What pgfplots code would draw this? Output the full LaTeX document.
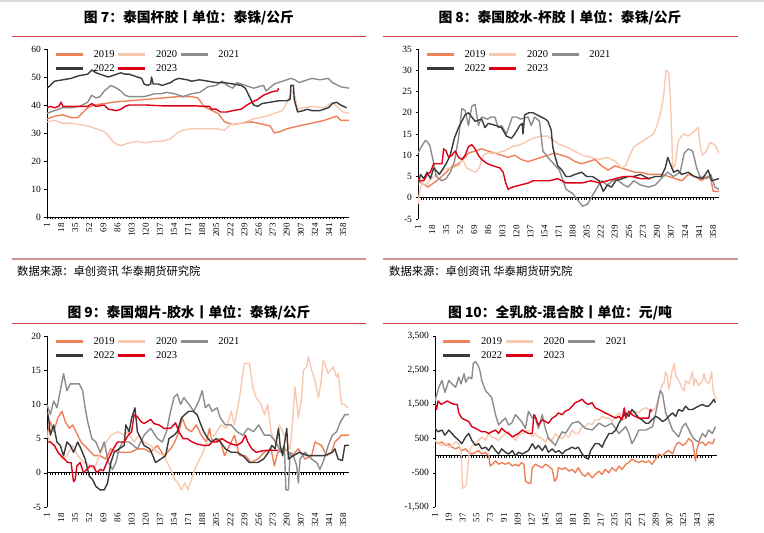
\documentclass[border=0pt]{standalone}
\usepackage{pgfplots}
\pgfplotsset{compat=1.18}
\usepackage{fontspec}
\setmainfont{Liberation Serif}
\newfontfamily\cjk{Noto Sans CJK SC}
\definecolor{c19}{RGB}{238,128,90}
\definecolor{c20}{RGB}{248,200,176}
\definecolor{c21}{RGB}{140,140,140}
\definecolor{c22}{RGB}{58,58,58}
\definecolor{c23}{RGB}{222,0,22}
\definecolor{trule}{RGB}{205,70,70}
\definecolor{brule}{RGB}{205,145,145}
\pgfplotsset{
  myax/.style={
    scale only axis, enlargelimits=false,
    axis y line=left, axis x line=middle,
    x axis line style={-, line width=0.6pt}, y axis line style={-, line width=0.6pt},
    hide obscured x ticks=false,
    tick align=outside, major tick length=2.5pt, minor tick length=2.5pt,
    tick style={black, line width=0.5pt},
    yticklabel style={font=\fontsize{9.5}{10}\selectfont},
    /pgf/number format/assume math mode=true,
    xticklabel style={rotate=90, anchor=east, font=\fontsize{9}{10}\selectfont},
    minor x tick num=4,
    scaled y ticks=false,
    every axis plot/.append style={line width=1.4pt, line join=round},
    legend columns=3,
    legend cell align=left,
    legend style={draw=none, fill=none, at={(0.025,1.0)}, anchor=north west,
      font=\fontsize{10.5}{11}\selectfont, inner sep=0pt, row sep=3pt,
      nodes={inner xsep=1.5pt, inner ysep=1.2pt},
      /tikz/every even column/.append style={column sep=1pt},
      /tikz/every odd column/.append style={column sep=8pt}},
    legend image code/.code={\draw[#1, line width=2.4pt] (0pt,0pt) -- (27pt,0pt);},
  }
}
\begin{document}
\begin{tikzpicture}
\useasboundingbox (0,0) rectangle (764pt,533pt);
\fill[gray!30] (0,531pt) rectangle (764pt,533pt);
% titles and rules
\node[font=\cjk\bfseries\fontsize{13.8}{14}\selectfont] at (189pt,515pt) {图 7：泰国杯胶丨单位：泰铢/公斤};
\node[font=\cjk\bfseries\fontsize{13.8}{14}\selectfont] at (560pt,515pt) {图 8：泰国胶水-杯胶丨单位：泰铢/公斤};
\node[font=\cjk\bfseries\fontsize{13.8}{14}\selectfont] at (189pt,220pt) {图 9：泰国烟片-胶水丨单位：泰铢/公斤};
\node[font=\cjk\bfseries\fontsize{13.8}{14}\selectfont] at (560pt,220pt) {图 10：全乳胶-混合胶丨单位：元/吨};
\draw[trule, line width=0.7pt] (12pt,497pt) -- (366pt,497pt);
\draw[trule, line width=0.7pt] (383pt,497pt) -- (738pt,497pt);
\draw[trule, line width=0.7pt] (12pt,210pt) -- (366pt,210pt);
\draw[trule, line width=0.7pt] (383pt,210pt) -- (738pt,210pt);
\draw[brule, line width=1.5pt] (12pt,274pt) -- (366pt,274pt);
\draw[brule, line width=1.5pt] (383pt,274pt) -- (738pt,274pt);
\node[anchor=west, inner sep=0pt, font=\cjk\fontsize{11.3}{12}\selectfont] at (17pt,262pt) {数据来源：卓创资讯 华泰期货研究院};
\node[anchor=west, inner sep=0pt, font=\cjk\fontsize{11.3}{12}\selectfont] at (389pt,262pt) {数据来源：卓创资讯 华泰期货研究院};

% ---------------- Panel 1
\begin{axis}[myax, at={(47pt,316pt)}, anchor=south west, width=302pt, height=168pt,
  xmin=1, xmax=365, ymin=0, ymax=60, ytick={0,10,...,60},
  xtick={1,18,...,358}]
\addplot[c19] coordinates {(1,35)(10,36)(20,36.5)(30,35.5)(38,35.5)(45,37.5)(50,39)(58,40)(70,40.5)(80,41)(100,41.5)(120,42)(140,42.5)(160,43)(175,43)(183,42.5)(190,39.5)(200,38)(207,37)(215,34)(225,33)(235,33.5)(247,34)(255,33.5)(263,33)(270,32.5)(275,30)(282,30.5)(290,31.5)(304,32.5)(320,33.5)(335,34.5)(345,35.5)(350,36)(355,34.5)(365,34.5)};
\addplot[c20] coordinates {(1,34)(10,34.5)(20,33.5)(30,33.5)(40,33)(50,32.5)(60,31.5)(70,30.5)(75,29)(80,27)(85,26)(90,25.5)(100,26.5)(110,27)(120,26.5)(130,27)(140,27)(150,28)(158,30)(165,31)(175,31.5)(190,31.5)(205,31.5)(215,31)(222,33)(235,33.5)(250,35)(265,36)(275,37)(285,38)(292,42)(296,45)(300,43)(303,38.5)(310,39)(320,39.5)(335,39)(345,41)(350,39.5)(358,37.5)(365,37)};
\addplot[c21] coordinates {(1,37)(10,38)(20,39)(30,39)(40,39.5)(50,41)(55,43.5)(60,42.5)(65,43)(70,45)(78,47)(85,46)(90,45)(95,43.5)(100,43)(110,43)(118,43)(125,43.5)(130,44)(138,44)(145,44.5)(155,44)(165,43)(175,44)(185,44.5)(195,46.5)(205,47)(212,48.5)(218,47)(225,46)(230,48)(240,47)(250,46)(262,47)(265,45)(275,47.5)(285,48.5)(295,49.5)(300,49)(305,48)(320,49.5)(330,49)(340,49.5)(345,48)(355,46.5)(365,46)};
\addplot[c22] coordinates {(1,46)(5,47)(10,48.5)(20,49)(30,49.5)(40,50.5)(50,51)(55,52.5)(60,51.5)(65,51)(70,50.5)(75,50)(80,50.5)(85,51)(90,51.5)(95,51)(100,51)(105,50.5)(110,50)(115,49.5)(118,47.5)(122,47)(126,47.5)(127,50)(129,47.5)(135,47.5)(140,47)(150,48)(155,49)(160,49.5)(170,49)(175,48.5)(185,49)(195,48.5)(205,48)(215,48)(225,47.5)(235,47)(240,46)(245,43)(250,40)(255,39.5)(260,40.5)(270,41)(280,41.5)(290,41.5)(294,42)(295,47)(298,47)(299,42)(303,37.5)(310,38)(315,38.5)(320,38)(330,38)(340,39)(345,40.5)(350,41)(355,40)(362,39)};
\addplot[c23] coordinates {(1,39)(5,39.5)(10,39)(15,39.5)(18,41)(20,39.5)(30,39.5)(40,39.5)(50,39.5)(55,40.5)(60,39.5)(70,40)(75,38.5)(85,38)(90,38.5)(95,39.5)(100,40)(110,40)(120,40)(140,39.7)(160,39.7)(180,39.7)(190,39.5)(197,39.5)(199,38.5)(205,38.5)(210,37.5)(218,37.5)(225,38)(235,38.5)(242,40)(248,41)(255,42)(262,43.5)(270,44.5)(276,45)(279,45)(280,46)};
\legend{2019,2020,2021,2022,2023}
\end{axis}

% ---------------- Panel 2
\begin{axis}[myax, at={(418pt,314pt)}, anchor=south west, width=301pt, height=170pt,
  xmin=1, xmax=365, ymin=-5, ymax=35, ytick={-5,0,...,35},
  xtick={1,18,...,358}, xticklabel shift=21.25pt]
\addplot[c19] coordinates {(1,4)(5,3.5)(13,2.5)(20,3.5)(27,4.5)(35,6)(41,7.2)(50,8)(58,9.5)(62,10.5)(70,11)(78,11.5)(86,11)(94,10.5)(102,10)(110,9.5)(118,10)(126,9)(134,8.5)(142,9)(150,9.5)(158,10)(166,10.5)(175,10)(183,9.5)(191,8.5)(199,8)(207,8.5)(215,9)(223,7.5)(231,6.5)(239,7.5)(247,7)(255,6.5)(263,6)(271,6)(279,5.5)(288,5.5)(296,5.5)(304,5)(312,4.5)(320,4)(328,5.5)(336,5)(344,4)(350,5)(355,4.5)(358,1.5)(365,1.5)};
\addplot[c20] coordinates {(1,-1.5)(3,1.5)(6,3.5)(10,3)(15,4)(20,5)(25,5.5)(30,6.5)(40,7)(50,7.5)(55,9)(60,7)(65,6.5)(70,6)(75,7)(80,10)(85,10.5)(95,10.5)(105,11)(115,12)(125,12.5)(135,13.5)(140,14)(150,14.5)(158,14.5)(165,13.5)(172,12.5)(180,12)(190,11)(200,10)(210,9.5)(220,9)(230,9.5)(240,8.5)(247,7)(252,7.5)(257,10)(262,12)(270,13)(278,14)(286,15)(290,17)(295,20.5)(298,24)(301,30)(304,29.5)(306,24)(308,14)(309,6.5)(312,8)(316,13.5)(322,15)(328,14.5)(334,15.5)(340,16.5)(342,12.5)(345,10)(350,11)(354,13)(360,12.5)(365,10.5)};
\addplot[c21] coordinates {(1,10.5)(5,12)(10,13.5)(15,12.5)(19,9)(23,5)(30,4)(35,4.5)(40,6)(45,8.5)(50,14)(54,21)(58,20.5)(62,17)(66,21.5)(70,22)(74,17)(78,19)(85,18.5)(90,19)(94,19)(98,16.5)(102,17)(108,15)(115,19)(120,19)(125,18.5)(134,19)(138,17)(142,19)(148,18)(152,11)(158,9.5)(165,8)(172,6.5)(180,2)(188,1)(196,-1)(200,-2)(206,-1.5)(212,0.5)(218,2.5)(223,4)(230,3)(240,4.5)(250,3)(255,2.5)(262,4)(270,3)(280,2.5)(288,3)(295,4.5)(303,6)(310,5)(318,6)(323,10.5)(328,11.5)(333,11)(338,7)(342,5)(350,4.5)(355,5.5)(360,2.5)(365,2)};
\addplot[c22] coordinates {(1,3)(4,5.5)(8,4.5)(12,6)(16,4.5)(20,7)(27,5.5)(35,8)(40,10)(45,14)(50,16.5)(54,18)(58,19.5)(62,20)(66,19)(70,18)(78,18.5)(82,16.5)(86,17.5)(95,17)(102,16.5)(108,14.5)(114,14)(118,15)(124,17)(127,17.5)(128,15)(130,19.5)(135,20)(140,20)(145,19.5)(150,19)(155,18.5)(158,18)(162,16)(164,12)(167,9.5)(170,7.5)(175,6.5)(180,5)(185,5)(191,5.5)(199,6)(205,5)(212,5)(220,4)(225,1.5)(230,3)(235,2.5)(240,4)(248,4.5)(255,5)(262,5)(270,5.5)(280,4.5)(288,5)(295,5)(300,7)(303,9.5)(306,8)(310,6)(315,6.5)(320,5.5)(328,6)(335,5)(345,4.5)(352,6.5)(356,4)(365,4.5)};
\addplot[c23] coordinates {(1,4.5)(4,4)(8,4)(12,5.5)(16,6)(20,8)(25,8)(30,8)(32,11.5)(35,11)(38,9.5)(42,10)(46,11)(50,9.5)(54,9)(58,10)(62,12)(66,12.5)(70,11.5)(74,10)(78,9)(85,8)(92,7.5)(100,7)(104,6)(107,3.5)(110,2)(115,2.5)(125,3)(135,3.5)(140,4)(150,4)(160,4)(170,4.5)(180,3.5)(190,3.5)(200,3.5)(210,4)(220,3.5)(230,4)(240,4.5)(250,5)(260,5)(270,4.5)(282,4.5)};
\legend{2019,2020,2021,2022,2023}
\end{axis}

% ---------------- Panel 3
\begin{axis}[myax, at={(47pt,26pt)}, anchor=south west, width=302pt, height=171pt,
  xmin=1, xmax=365, ymin=-5, ymax=20, ytick={-5,0,...,20},
  xtick={1,18,...,358}, xticklabel shift=34.2pt]
\addplot[c19] coordinates {(1,5.5)(5,7.5)(9,6)(14,8)(19,9)(23,7.5)(28,6.5)(32,7)(38,5.5)(42,4.5)(50,3.5)(58,2.5)(65,2.5)(72,2)(78,3.5)(86,3)(94,3)(102,3)(110,3.5)(118,3.5)(126,3)(134,4)(142,2.5)(150,3.5)(155,4.5)(160,6)(164,8)(169,6.5)(175,6)(181,7)(187,5.5)(193,4.5)(197,6.5)(199,5)(203,4.5)(209,5)(215,2.5)(221,4)(227,5.5)(233,2.5)(240,2.5)(247,1.5)(255,2)(263,3)(271,3.5)(275,1)(279,3)(288,3.5)(296,2.5)(304,3.5)(312,2)(320,2.5)(324,4.5)(332,4)(338,2.5)(344,3)(348,4.5)(352,5)(356,5.5)(365,5.5)};
\addplot[c20] coordinates {(1,5.5)(5,4.5)(13,3.5)(19,2)(25,2.5)(32,4)(38,2.5)(46,1.5)(54,1)(58,0.5)(64,2.5)(70,4)(78,5.5)(86,6)(94,5.5)(98,6)(106,4.5)(112,5.5)(118,4.5)(126,4)(134,3)(142,2.5)(146,1.5)(150,0.5)(155,-1)(159,-1.5)(163,-2.5)(167,-1.5)(171,-2.5)(175,-1)(179,0.5)(183,1.5)(189,3)(195,5)(203,5.5)(211,7)(217,6.5)(223,9)(227,7)(233,11)(237,14.5)(239,16)(245,16)(249,12.5)(253,11)(259,10)(263,8.5)(267,10)(271,6)(277,4)(281,7)(285,6)(290,4.5)(294,3.5)(296,6)(300,12.5)(304,8)(308,11)(310,15)(314,15.5)(316,17)(320,15)(324,13.5)(328,11)(331,13)(334,16.5)(340,14.5)(346,15.5)(350,14)(352,14.5)(356,10)(360,10)(364,9.5)};
\addplot[c21] coordinates {(1,10)(5,8.5)(9,10.5)(13,9.5)(17,12)(21,14.5)(25,12)(29,13)(35,13)(40,13)(44,12)(47,9.5)(50,7.5)(55,5)(60,4.5)(65,3)(70,4.5)(75,1.5)(80,0.5)(84,1.5)(88,3.5)(92,4.5)(100,4.5)(110,3.5)(118,5.5)(126,6.5)(134,5)(140,4.5)(145,6)(150,9)(154,11)(158,11.5)(162,10)(166,11)(172,10)(178,9)(184,10.5)(188,12)(192,9.5)(196,10)(200,9)(206,9.5)(210,8)(216,7)(223,7)(230,6)(237,5.5)(243,6.5)(250,6)(256,7)(263,5.5)(270,5.5)(277,4.5)(283,3)(287,4)(289,-2.5)(292,-2.5)(294,3)(298,2.5)(302,1)(304,-1.5)(306,2)(312,3)(320,2)(326,1.5)(330,0.5)(335,2)(340,4)(345,5.5)(350,6)(355,7.5)(360,8.5)(365,8.5)};
\addplot[c22] coordinates {(1,9)(3,8)(5,5.5)(9,7)(13,4.5)(17,4)(21,2.5)(25,4.5)(29,4)(33,3)(38,4.5)(42,3.5)(47,2)(52,-0.5)(56,-1)(60,-2)(65,-2.5)(70,-2.5)(74,-1.5)(78,1.5)(82,3)(88,3.5)(94,4)(96,7)(100,6)(103,8)(107,9.5)(110,6)(114,5)(118,4)(125,3.5)(132,1.5)(138,2)(144,2.5)(148,5)(154,5.5)(158,6)(163,8)(167,8.5)(172,9)(177,9)(182,8.5)(185,7.5)(190,6)(195,5)(199,4.5)(205,5)(210,4.5)(216,3.5)(223,3)(230,3)(237,2.5)(245,1.5)(255,1.5)(262,2)(268,3)(272,4)(276,3.5)(280,6.5)(282,4)(285,2.5)(290,6.5)(292,2)(298,2.5)(305,3)(315,2.5)(325,2.5)(335,2.5)(345,3)(348,3.5)(352,2)(357,1.8)(360,4)(365,4)};
\addplot[c23] coordinates {(1,4.5)(5,4.5)(10,4)(14,3)(18,2.5)(22,2)(26,1.5)(30,1.5)(33,-1.3)(35,-1)(37,1)(41,1.5)(45,0)(49,0.5)(53,1)(57,1)(61,0)(65,0.5)(69,0.3)(73,1.5)(77,2.5)(81,3.5)(86,4.5)(94,4.5)(99,5.5)(103,6)(106,8.5)(110,8.2)(114,7.5)(118,7.2)(122,7.5)(126,7.8)(130,7.2)(136,7)(142,6.5)(150,6.5)(156,7.3)(160,6)(165,5)(170,5)(176,4.5)(182,4.2)(190,4)(196,4)(200,4.5)(206,4.5)(212,5)(218,4.5)(224,4.2)(230,4)(236,4.5)(240,5.5)(243,4.5)(248,3.5)(253,3)(260,3.2)(268,3.3)(275,3.3)(280,3.3)};
\legend{2019,2020,2021,2022,2023}
\end{axis}

% ---------------- Panel 4
\begin{axis}[myax, at={(435pt,26pt)}, anchor=south west, width=282pt, height=171pt,
  xmin=1, xmax=369, ymin=-1500, ymax=3500, ytick={-1500,-500,500,1500,2500,3500},
  xtick={1,19,...,361}, xticklabel shift=51.3pt]
\addplot[c19] coordinates {(1,450)(5,350)(10,400)(15,300)(19,350)(23,250)(28,200)(32,250)(36,150)(41,200)(45,100)(49,50)(54,100)(58,150)(62,50)(67,100)(71,0)(73,-300)(76,-250)(80,-150)(84,-250)(88,-200)(93,-250)(97,-200)(102,-300)(106,-250)(110,-300)(114,-200)(117,-250)(119,-750)(123,-800)(126,-800)(128,-350)(132,-250)(136,-300)(141,-350)(145,-250)(149,-300)(154,-400)(157,-750)(160,-650)(162,-350)(167,-400)(171,-350)(176,-450)(180,-400)(184,-500)(188,-350)(193,-550)(197,-600)(201,-500)(206,-650)(210,-550)(215,-450)(219,-550)(223,-400)(228,-500)(232,-350)(237,-450)(241,-300)(245,-400)(250,-250)(254,-200)(258,-100)(262,-150)(267,-200)(271,-150)(276,-200)(280,-150)(284,-250)(289,-100)(293,50)(298,0)(302,100)(306,150)(311,50)(315,300)(319,400)(324,300)(328,350)(332,500)(337,400)(341,-150)(343,200)(345,350)(350,400)(354,300)(358,400)(363,350)(366,500)};
\addplot[c20] coordinates {(1,450)(6,350)(10,300)(15,350)(19,250)(23,300)(28,400)(32,350)(35,150)(37,-950)(40,-900)(42,-850)(44,-300)(46,150)(50,300)(54,350)(58,450)(62,550)(67,450)(71,650)(75,550)(80,500)(84,450)(88,550)(93,650)(97,700)(102,550)(106,450)(110,600)(115,650)(119,700)(123,750)(128,550)(132,650)(136,550)(141,500)(145,400)(149,550)(154,450)(158,650)(162,550)(167,500)(171,600)(176,550)(180,750)(184,650)(188,650)(193,850)(197,850)(201,950)(206,900)(210,1050)(215,1050)(219,1150)(223,1100)(228,1100)(232,1000)(237,1150)(241,1250)(245,1050)(250,1100)(254,1250)(258,1250)(262,1300)(267,1250)(271,1350)(276,1400)(280,1350)(284,1300)(289,1400)(292,1650)(295,1900)(297,2050)(300,2150)(302,2450)(304,2350)(306,1950)(308,2150)(310,2450)(313,2700)(315,2350)(319,2200)(324,1950)(326,1900)(328,2200)(332,2100)(335,2300)(337,2450)(339,2050)(341,2250)(345,2050)(350,2200)(352,2400)(354,2200)(358,2100)(360,2250)(362,2450)(364,1900)(367,1700)(369,1650)};
\addplot[c21] coordinates {(1,1600)(6,2000)(10,2200)(14,1850)(19,2200)(23,2100)(28,2000)(32,2300)(35,2100)(39,2400)(41,2150)(45,2300)(49,2250)(51,2700)(54,2750)(58,2600)(60,2450)(62,2200)(67,1900)(71,1800)(75,1700)(80,1200)(84,900)(88,1000)(93,1100)(97,900)(101,950)(106,1200)(110,1100)(114,1000)(119,800)(123,1300)(128,1100)(132,1100)(136,800)(141,1200)(145,800)(149,500)(154,400)(158,300)(162,500)(167,700)(171,650)(180,950)(188,1000)(197,800)(206,750)(215,950)(223,850)(232,950)(241,650)(250,850)(254,650)(258,350)(263,550)(267,750)(276,750)(285,850)(289,1250)(295,1900)(298,1800)(302,1250)(306,1050)(311,750)(315,650)(319,550)(324,850)(328,950)(337,550)(341,450)(345,400)(350,650)(354,550)(358,750)(363,650)(367,850)};
\addplot[c22] coordinates {(1,800)(5,700)(10,750)(14,600)(19,750)(23,650)(27,550)(32,450)(36,350)(41,550)(45,650)(49,450)(54,300)(58,350)(62,200)(67,250)(71,150)(75,300)(80,150)(84,50)(88,200)(93,100)(97,50)(102,150)(106,0)(110,100)(115,50)(119,100)(123,150)(128,350)(132,200)(136,300)(141,150)(145,300)(149,100)(154,200)(158,100)(163,150)(167,50)(171,150)(176,200)(180,250)(184,200)(188,250)(193,50)(197,-50)(201,-100)(204,150)(210,350)(215,350)(219,250)(223,450)(228,650)(232,650)(237,750)(241,950)(245,1100)(250,1250)(254,1150)(258,1350)(262,1250)(267,1100)(271,1050)(276,950)(280,950)(284,1050)(289,1150)(293,1100)(298,1000)(302,1050)(306,1150)(311,1250)(315,1150)(319,1350)(324,1300)(328,1450)(332,1350)(337,1350)(341,1400)(345,1450)(350,1500)(354,1450)(358,1450)(362,1550)(365,1650)(367,1550)};
\addplot[c23] coordinates {(1,1550)(3,1350)(5,1600)(9,1500)(13,1550)(17,1600)(21,1550)(26,1500)(30,1500)(32,1250)(36,1100)(40,1050)(45,1000)(49,850)(54,800)(58,750)(62,700)(67,700)(71,650)(75,700)(80,750)(84,650)(88,800)(93,700)(97,650)(102,550)(106,600)(110,650)(115,750)(119,700)(123,650)(128,650)(130,1200)(132,1150)(134,1000)(136,900)(141,1050)(145,1000)(149,950)(154,1100)(158,1150)(162,1250)(167,1200)(171,1300)(176,1350)(180,1450)(184,1550)(189,1600)(193,1650)(197,1550)(201,1500)(206,1550)(210,1400)(215,1350)(219,1300)(223,1250)(228,1200)(232,1150)(237,1100)(241,1150)(245,1050)(248,1400)(250,1100)(254,1300)(258,1200)(262,1150)(267,1100)(271,1100)(276,1100)(280,1100)(282,1350)(284,1300)};
\legend{2019,2020,2021,2022,2023}
\end{axis}
\end{tikzpicture}
\end{document}
